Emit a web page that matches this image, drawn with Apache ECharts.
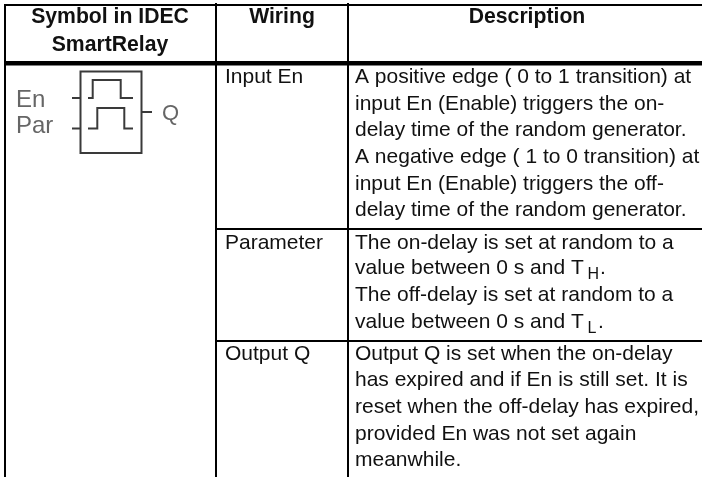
<!DOCTYPE html>
<html>
<head>
<meta charset="utf-8">
<style>html,body{margin:0;padding:0;background:#fff}#c{width:702px;height:477px}</style>
<script src="https://cdn.jsdelivr.net/npm/echarts@6/dist/echarts.min.js"></script>
</head>
<body>
<div id="c"></div>
<script>
const headerCol1 = ["Symbol in IDEC", "SmartRelay"];
const headerCol2 = ["Wiring"];
const headerCol3 = ["Description"];
const wiringLabels = ["Input En", "Parameter", "Output Q"];
const descInput = [
  "A positive edge ( 0 to 1 transition) at",
  "input En (Enable) triggers the on-",
  "delay time of the random generator.",
  "A negative edge ( 1 to 0 transition) at",
  "input En (Enable) triggers the off-",
  "delay time of the random generator."
];
const descParam = [
  "The on-delay is set at random to a",
  "value between 0 s and T",
  "The off-delay is set at random to a",
  "value between 0 s and T"
];
const descOutput = [
  "Output Q is set when the on-delay",
  "has expired and if En is still set. It is",
  "reset when the off-delay has expired,",
  "provided En was not set again",
  "meanwhile."
];
const symbolLabels = ["En", "Par", "Q"];

const FONT = '"Liberation Sans", Arial, sans-serif';
const FS = 21;
const el = [];
function line(x1, y1, x2, y2, w, c) {
  el.push({type:'line', shape:{x1,y1,x2,y2}, style:{stroke:c||'#000', lineWidth:w}, silent:true});
}
// y is the baseline; zrender places text from its top
function txt(s, x, y, o) {
  o = o || {};
  const fs = o.fs || FS;
  el.push({type:'text', x, y:y-fs*0.78, silent:true, style:{text:s, x:0, y:0,
    font:(o.bold?'bold ':'')+fs+'px '+FONT, fill:o.c||'#111',
    textAlign:o.align||'left', textVerticalAlign:'top', verticalAlign:'top'}});
}
// table rules
line(4,5,702,5,2);
line(4,63.3,702,63.3,4.5);
line(216,229,702,229,2);
line(216,341,702,341,2);
line(5,4,5,477,2);
line(216,3,216,477,2);
line(348,3,348,477,2);
// header
txt(headerCol1[0],110,23,{bold:1,align:'center',fs:21.2});
txt(headerCol1[1],110,51.5,{bold:1,align:'center',fs:21.2});
txt(headerCol2[0],282,23,{bold:1,align:'center',fs:21.2});
txt(headerCol3[0],527,23,{bold:1,align:'center',fs:21.2});
// wiring labels
txt(wiringLabels[0],225,83);
txt(wiringLabels[1],225,249);
txt(wiringLabels[2],225,360);
// description
const y1=[83,110,136.5,163,190,216], y2=[249,274,301,328], y3=[360,386,413,440,466];
descInput.forEach((s,i)=>txt(s,355,y1[i]));
descParam.forEach((s,i)=>txt(s,355,y2[i]));
descOutput.forEach((s,i)=>txt(s,355,y3[i]));
txt('H',587.5,279,{fs:16});
txt('.',600,274);
txt('L',587.5,333,{fs:16});
txt('.',598,328);
// symbol
const G='#3a3a3a';
el.push({type:'rect',shape:{x:80.5,y:71.5,width:61,height:81.5},style:{fill:'none',stroke:G,lineWidth:2},silent:true});
el.push({type:'polyline',shape:{points:[[88,98],[92.7,98],[92.7,80],[120.7,80],[120.7,98],[133,98]]},style:{fill:'none',stroke:G,lineWidth:2},silent:true});
el.push({type:'polyline',shape:{points:[[88,128.5],[97.3,128.5],[97.3,108],[124.3,108],[124.3,128.5],[133,128.5]]},style:{fill:'none',stroke:G,lineWidth:2},silent:true});
line(72,98,80,98,2,G); line(72,128.5,80,128.5,2,G); line(142,112,152,112,2,G);
txt(symbolLabels[0],16,107,{fs:24,c:'#666'});
txt(symbolLabels[1],16,133,{fs:24,c:'#666'});
txt(symbolLabels[2],162,120,{fs:22,c:'#666'});

const chart = echarts.init(document.getElementById('c'), null, {renderer:'canvas'});
chart.setOption({animation:false, backgroundColor:'#fff', graphic:{elements:el}});
</script>
</body>
</html>
